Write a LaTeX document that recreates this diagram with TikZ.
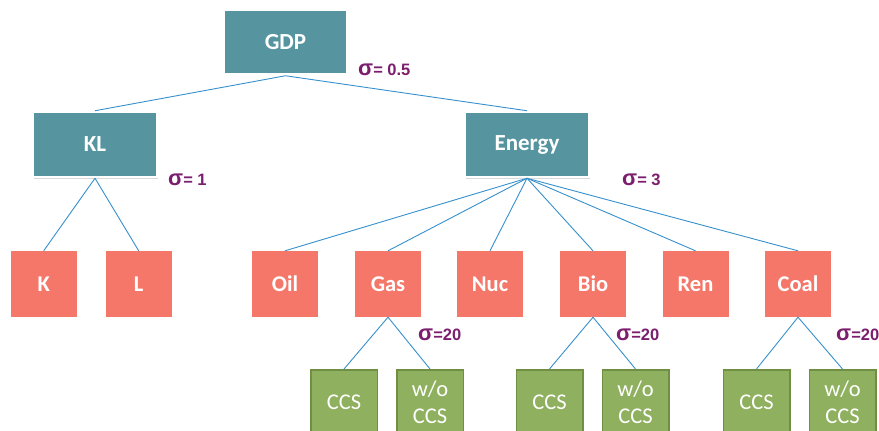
\documentclass[tikz,border=0pt]{standalone}
\usepackage{fontspec}
\setmainfont{Carlito}
\newfontfamily\sigfont{Liberation Sans}
\usetikzlibrary{shadows}
\definecolor{tealbox}{RGB}{86,149,160}
\definecolor{fuelred}{RGB}{244,119,106}
\definecolor{ccsgreen}{RGB}{143,176,94}
\definecolor{ccsedge}{RGB}{112,143,68}
\definecolor{linkblue}{RGB}{54,144,204}
\definecolor{sigpurple}{RGB}{123,30,110}
\newcommand{\sig}{{\fontsize{22}{22}\selectfont σ}}
\tikzset{
  aggbox/.style={fill=tealbox,draw=white,line width=2.5pt,minimum width=124pt,minimum height=65pt,inner sep=0pt,text=white,font=\fontsize{23}{25}\selectfont\bfseries,drop shadow={shadow xshift=1pt,shadow yshift=-1.5pt,opacity=0.3}},
  fuelbox/.style={fill=fuelred,minimum size=66pt,inner sep=0pt,text=white,font=\fontsize{22.5}{24}\selectfont\bfseries},
  ccsbox/.style={fill=ccsgreen,draw=ccsedge,line width=1.5pt,minimum width=66.5pt,minimum height=64.5pt,inner sep=0pt,align=center,text=white,font=\fontsize{22.5}{27}\selectfont},
  link/.style={linkblue,line width=0.9pt},
  sigmalab/.style={text=sigpurple,font=\sigfont\bfseries\fontsize{16.5}{18}\selectfont,anchor=west,inner sep=0pt}
}
\begin{document}
\begin{tikzpicture}[x=1pt,y=-1pt]
\useasboundingbox (0,0) rectangle (879,431);
% top levels
\node[aggbox] (gdp) at (285.5,42) {GDP};
\node[aggbox] (kl) at (95,144.5) {KL};
\node[aggbox] (energy) at (527,144.5) {Energy};
% fuels
\node[fuelbox] (k) at (43.7,284) {K};
\node[fuelbox] (l) at (138.7,284) {L};
\node[fuelbox] (oil) at (285,284) {Oil};
\node[fuelbox] (gas) at (388,284) {Gas};
\node[fuelbox] (nuc) at (490,284) {Nuc};
\node[fuelbox] (bio) at (593,284) {Bio};
\node[fuelbox] (ren) at (695.5,284) {Ren};
\node[fuelbox] (coal) at (798,284) {Coal};
% ccs options
\node[ccsbox] (gasccs) at (344,402) {CCS};
\node[ccsbox] (gasno) at (430,402) {w/o\\CCS};
\node[ccsbox] (bioccs) at (549.5,402) {CCS};
\node[ccsbox] (biono) at (635.5,402) {w/o\\CCS};
\node[ccsbox] (coalccs) at (756.5,402) {CCS};
\node[ccsbox] (coalno) at (842.5,402) {w/o\\CCS};
% links
\draw[link] (gdp.south) -- (kl.north);
\draw[link] (gdp.south) -- (energy.north);
\draw[link] (kl.south) -- (k.north);
\draw[link] (kl.south) -- (l.north);
\draw[link] (energy.south) -- (oil.north);
\draw[link] (energy.south) -- (gas.north);
\draw[link] (energy.south) -- (nuc.north);
\draw[link] (energy.south) -- (bio.north);
\draw[link] (energy.south) -- (ren.north);
\draw[link] (energy.south) -- (coal.north);
\draw[link] (gas.south) -- (gasccs.north);
\draw[link] (gas.south) -- (gasno.north);
\draw[link] (bio.south) -- (bioccs.north);
\draw[link] (bio.south) -- (biono.north);
\draw[link] (coal.south) -- (coalccs.north);
\draw[link] (coal.south) -- (coalno.north);
% elasticities
\node[sigmalab] (s1) at (358,70) {\sig= 0.5};
\node[sigmalab] (s2) at (168,180) {\sig= 1};
\node[sigmalab] (s3) at (622,180) {\sig= 3};
\node[sigmalab] (s4) at (418,335) {\sig=20};
\node[sigmalab] (s5) at (616,335) {\sig=20};
\node[sigmalab] (s6) at (836,335) {\sig=20};
\end{tikzpicture}
\end{document}
